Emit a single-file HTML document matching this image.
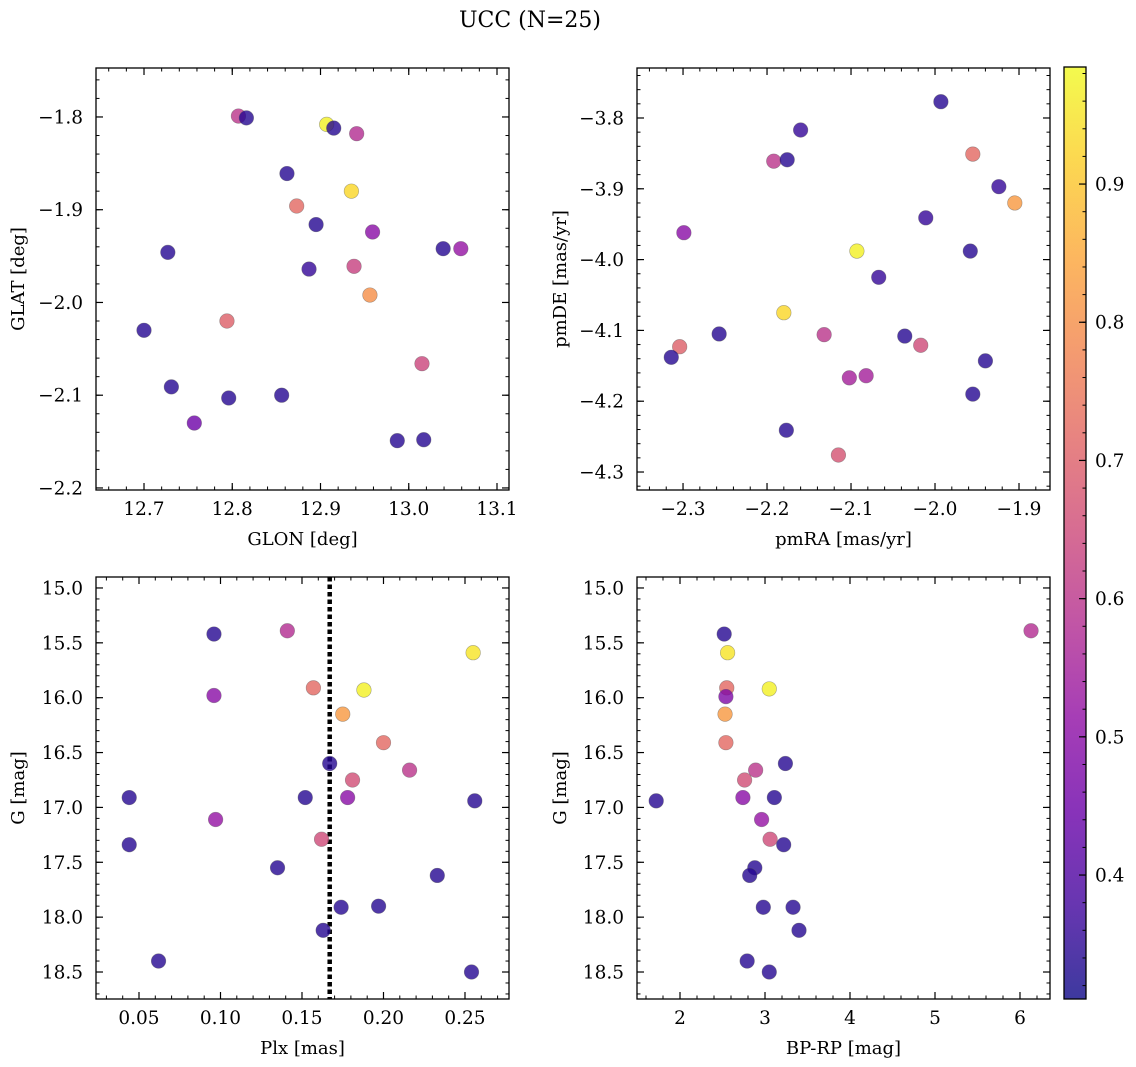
<!DOCTYPE html>
<html><head><meta charset="utf-8">
<style>
body{margin:0;background:#fff;}
svg{display:block;font-family:"DejaVu Serif","Liberation Serif",serif;}
</style></head>
<body>
<svg id="fig" width="1136" height="1067" viewBox="0 0 1136 1067">
<defs>
<linearGradient id="cbgrad" x1="0" y1="1" x2="0" y2="0">
<stop offset="0" stop-color="#0d0887"/><stop offset="0.1" stop-color="#41049d"/><stop offset="0.2" stop-color="#6a00a8"/><stop offset="0.3" stop-color="#8f0da4"/><stop offset="0.4" stop-color="#b12a90"/><stop offset="0.5" stop-color="#cc4778"/><stop offset="0.6" stop-color="#e16462"/><stop offset="0.7" stop-color="#f2844b"/><stop offset="0.8" stop-color="#fca636"/><stop offset="0.9" stop-color="#fcce25"/><stop offset="1" stop-color="#f0f921"/>
</linearGradient>
</defs>
<text x="530" y="27" font-size="22" text-anchor="middle">UCC (N=25)</text>
</svg>
<script>
// Panel 1: GLON vs GLAT
const p1X=[12.807,12.816,12.907,12.915,12.941,12.862,12.935,12.873,12.895,12.959,12.727,12.887,12.938,13.039,13.059,12.956,12.700,12.794,13.015,12.731,12.796,12.856,12.757,12.987,13.017];
const p1Y=[-1.799,-1.801,-1.808,-1.812,-1.818,-1.861,-1.880,-1.896,-1.916,-1.924,-1.946,-1.964,-1.961,-1.942,-1.942,-1.992,-2.030,-2.020,-2.066,-2.091,-2.103,-2.100,-2.130,-2.149,-2.148];
const p1C=[0.60,0.34,0.97,0.34,0.58,0.34,0.93,0.72,0.34,0.50,0.34,0.36,0.63,0.34,0.52,0.80,0.34,0.70,0.64,0.34,0.34,0.34,0.45,0.34,0.34];
// Panel 2: pmRA vs pmDE
const p2X=[-1.993,-2.160,-2.192,-2.176,-1.955,-1.924,-1.905,-2.011,-2.299,-2.093,-1.958,-2.067,-2.180,-2.257,-2.132,-2.036,-2.017,-2.304,-2.314,-1.940,-2.102,-2.082,-1.955,-2.177,-2.115];
const p2Y=[-3.777,-3.817,-3.861,-3.859,-3.851,-3.897,-3.920,-3.941,-3.962,-3.988,-3.988,-4.025,-4.075,-4.105,-4.106,-4.108,-4.121,-4.123,-4.138,-4.143,-4.167,-4.164,-4.190,-4.241,-4.276];
const p2C=[0.34,0.36,0.60,0.34,0.72,0.36,0.82,0.36,0.50,0.97,0.34,0.36,0.93,0.34,0.60,0.34,0.65,0.70,0.34,0.34,0.55,0.55,0.34,0.34,0.67];
// Panel 3: Plx vs G
const p3X=[0.096,0.141,0.255,0.157,0.188,0.096,0.175,0.200,0.167,0.216,0.181,0.044,0.152,0.178,0.256,0.097,0.162,0.044,0.135,0.233,0.174,0.197,0.163,0.062,0.254];
const p3Y=[15.42,15.39,15.59,15.91,15.93,15.98,16.15,16.41,16.60,16.66,16.75,16.91,16.91,16.91,16.94,17.11,17.29,17.34,17.55,17.62,17.91,17.90,18.12,18.40,18.50];
const p3C=[0.34,0.58,0.95,0.72,0.97,0.50,0.82,0.72,0.34,0.60,0.66,0.34,0.34,0.50,0.34,0.52,0.65,0.34,0.34,0.34,0.34,0.34,0.34,0.34,0.34];
const plxLine=0.167;
// Panel 4: BP-RP vs G
const p4X=[2.52,6.13,2.56,2.55,3.05,2.54,2.53,2.54,3.24,2.89,2.76,1.72,2.74,3.11,2.96,3.06,3.22,2.88,2.82,2.98,3.33,3.40,2.79,3.05];
const p4Y=[15.42,15.39,15.59,15.91,15.92,15.99,16.15,16.41,16.60,16.66,16.75,16.94,16.91,16.91,17.11,17.29,17.34,17.55,17.62,17.91,17.91,18.12,18.40,18.50];
const p4C=[0.34,0.58,0.95,0.72,0.97,0.48,0.82,0.72,0.34,0.60,0.66,0.34,0.50,0.34,0.52,0.65,0.34,0.34,0.34,0.34,0.34,0.34,0.34,0.34];
// Tick labels
const p1XT=[12.7,12.8,12.9,13.0,13.1], p1YT=[-1.8,-1.9,-2.0,-2.1,-2.2];
const p2XT=[-2.3,-2.2,-2.1,-2.0,-1.9], p2YT=[-3.8,-3.9,-4.0,-4.1,-4.2,-4.3];
const p3XT=[0.05,0.10,0.15,0.20,0.25], gT=[15.0,15.5,16.0,16.5,17.0,17.5,18.0,18.5];
const p4XT=[2,3,4,5,6];
const cbT=[0.4,0.5,0.6,0.7,0.8,0.9];
const VMIN=0.3103, VMAX=0.9847;

const NS="http://www.w3.org/2000/svg";
const svg=document.getElementById('fig');
const TFS=18.5, LFS=18;
function mk(tag,attrs,parent){const e=document.createElementNS(NS,tag);for(const k in attrs)e.setAttribute(k,attrs[k]);(parent||svg).appendChild(e);return e;}
const stops=[[13,8,135],[65,4,157],[106,0,168],[143,13,164],[177,42,144],[204,71,120],[225,100,98],[242,132,75],[252,166,54],[252,206,37],[240,249,33]];
function plasma(v){let t=(v-VMIN)/(VMAX-VMIN);t=Math.max(0,Math.min(1,t))*10;const i=Math.min(9,Math.floor(t)),f=t-i;const a=stops[i],b=stops[i+1];return `rgb(${Math.round(a[0]+(b[0]-a[0])*f)},${Math.round(a[1]+(b[1]-a[1])*f)},${Math.round(a[2]+(b[2]-a[2])*f)})`;}
function fmt(v,d){const s=Math.abs(v).toFixed(d);return (v<0?'\u2212':'')+s;}

function panel(cfg){
  const {x0,x1,y0,y1,xmin,xmax,ymin,ymax,xs,ys,cs,xt,yt,xd,yd,xminor,yminor,xlabel,ylabel,name}=cfg;
  const sx=v=>x0+(v-xmin)/(xmax-xmin)*(x1-x0);
  const sy=v=>y1-(v-ymin)/(ymax-ymin)*(y1-y0);
  const g=mk('g',{});
  
  
  const lo=Math.min(xmin,xmax),hi=Math.max(xmin,xmax);
  for(let k=Math.ceil(lo/xminor-1e-6);k*xminor<=hi+1e-9;k++){const v=k*xminor;const X=sx(v);
    mk('line',{x1:X,x2:X,y1:y1,y2:y1-3.5,stroke:'#000','stroke-width':1},g);mk('line',{x1:X,x2:X,y1:y0,y2:y0+3.5,stroke:'#000','stroke-width':1},g);}
  const ylo=Math.min(ymin,ymax),yhi=Math.max(ymin,ymax);
  for(let k=Math.ceil(ylo/yminor-1e-6);k*yminor<=yhi+1e-9;k++){const v=k*yminor;const Y=sy(v);
    mk('line',{x1:x0,x2:x0+3.5,y1:Y,y2:Y,stroke:'#000','stroke-width':1},g);mk('line',{x1:x1,x2:x1-3.5,y1:Y,y2:Y,stroke:'#000','stroke-width':1},g);}
  xt.forEach(v=>{const X=sx(v);
    mk('line',{x1:X,x2:X,y1:y1,y2:y1-7,stroke:'#000','stroke-width':1.2},g);mk('line',{x1:X,x2:X,y1:y0,y2:y0+7,stroke:'#000','stroke-width':1.2},g);
    const t=mk('text',{x:X,y:y1+25,'font-size':TFS,'text-anchor':'middle'},g);t.textContent=fmt(v,xd);
    
    });
  yt.forEach(v=>{const Y=sy(v);
    mk('line',{x1:x0,x2:x0+7,y1:Y,y2:Y,stroke:'#000','stroke-width':1.2},g);mk('line',{x1:x1,x2:x1-7,y1:Y,y2:Y,stroke:'#000','stroke-width':1.2},g);
    const t=mk('text',{x:x0-13,y:Y+6.5,'font-size':TFS,'text-anchor':'end'},g);t.textContent=fmt(v,yd);
    
    });
  if(cfg.vline!==undefined){const X=sx(cfg.vline);const l=mk('line',{x1:X,x2:X,y1:y0,y2:y1,stroke:'#000','stroke-width':4.5,'stroke-dasharray':'4.5,3'},g);
    
    }
  xs.forEach((v,i)=>{const c=mk('circle',{cx:sx(v),cy:sy(ys[i]),r:7.3,fill:plasma(cs[i]),'fill-opacity':0.8,stroke:'#555','stroke-opacity':0.5,'stroke-width':0.6},g);
    
    });
  mk('rect',{x:x0,y:y0,width:x1-x0,height:y1-y0,fill:'none',stroke:'#000','stroke-width':1.3},g);
  const xl=mk('text',{x:(x0+x1)/2,y:y1+55,'font-size':LFS,'text-anchor':'middle'},g);xl.textContent=xlabel;
  
  
  const yc=(y0+y1)/2,yx=cfg.ylx;
  const yl=mk('text',{x:yx,y:yc,'font-size':LFS,'text-anchor':'middle',transform:`rotate(-90 ${yx} ${yc})`},g);yl.textContent=ylabel;
  
  
}
panel({name:'panel-glon-glat',x0:96,x1:509,y0:68,y1:490,xmin:12.6456,xmax:13.1136,ymin:-2.2022,ymax:-1.7472,xs:p1X,ys:p1Y,cs:p1C,xt:p1XT,yt:p1YT,xd:1,yd:1,xminor:0.02,yminor:0.02,xlabel:'GLON [deg]',ylabel:'GLAT [deg]',ylx:24});
panel({name:'panel-pm',x0:637,x1:1050,y0:68,y1:490,xmin:-2.3548,xmax:-1.8631,ymin:-4.3254,ymax:-3.7294,xs:p2X,ys:p2Y,cs:p2C,xt:p2XT,yt:p2YT,xd:1,yd:1,xminor:0.02,yminor:0.02,xlabel:'pmRA [mas/yr]',ylabel:'pmDE [mas/yr]',ylx:566});
panel({name:'panel-plx-g',x0:96,x1:509,y0:577,y1:999,xmin:0.02362,xmax:0.277,ymin:18.746,ymax:14.9,xs:p3X,ys:p3Y,cs:p3C,xt:p3XT,yt:gT,xd:2,yd:1,xminor:0.01,yminor:0.1,xlabel:'Plx [mas]',ylabel:'G [mag]',ylx:24,vline:plxLine});
panel({name:'panel-cmd',x0:637,x1:1050,y0:577,y1:999,xmin:1.494,xmax:6.353,ymin:18.746,ymax:14.9,xs:p4X,ys:p4Y,cs:p4C,xt:p4XT,yt:gT,xd:0,yd:1,xminor:0.2,yminor:0.1,xlabel:'BP-RP [mag]',ylabel:'G [mag]',ylx:566});
// Colorbar
(function(){
  const x0=1064,x1=1086,y0=67,y1=999;
  const sy=v=>y1-(v-VMIN)/(VMAX-VMIN)*(y1-y0);
  const g=mk('g',{});
  
  
  mk('rect',{x:x0,y:y0,width:x1-x0,height:y1-y0,fill:'url(#cbgrad)','fill-opacity':0.8},g);
  for(let k=Math.ceil(VMIN/0.02);k*0.02<=VMAX;k++){const Y=sy(k*0.02);mk('line',{x1:x1,x2:x1-3.5,y1:Y,y2:Y,stroke:'#000','stroke-width':1},g);}
  cbT.forEach(v=>{const Y=sy(v);mk('line',{x1:x1,x2:x1-7,y1:Y,y2:Y,stroke:'#000','stroke-width':1.2},g);
    const t=mk('text',{x:x1+9,y:Y+6.5,'font-size':TFS},g);t.textContent=v.toFixed(1);
    
    });
  mk('rect',{x:x0,y:y0,width:x1-x0,height:y1-y0,fill:'none',stroke:'#000','stroke-width':1.3},g);
})();
</script>
</body></html>
